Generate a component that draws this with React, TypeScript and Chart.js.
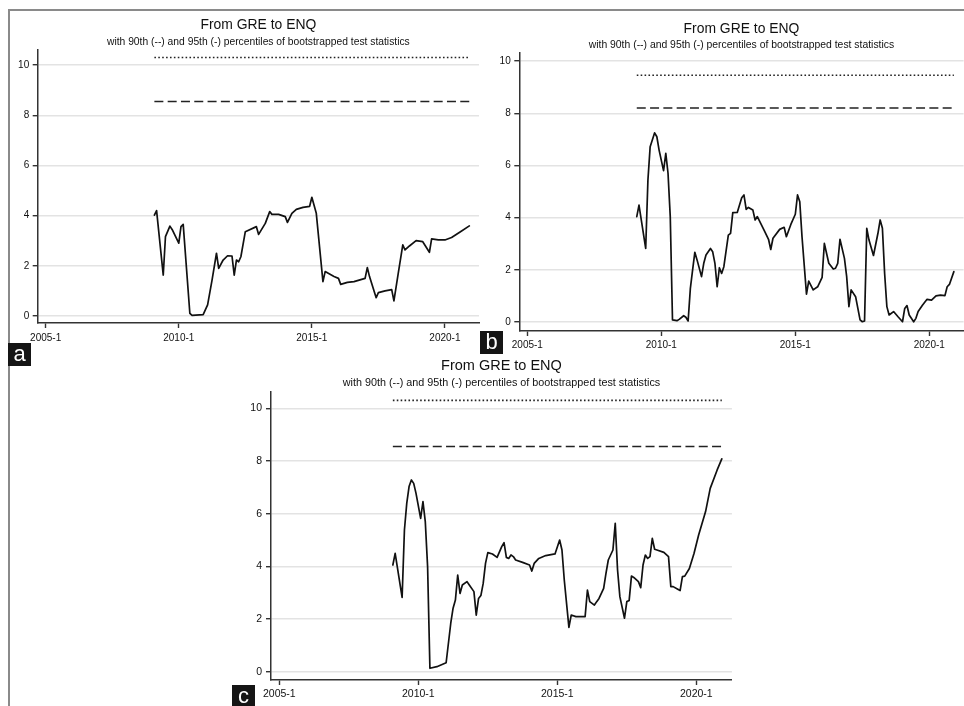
import React, { useEffect, useRef } from "react";
import { Chart, registerables } from "chart.js";

Chart.register(...registerables);

// ---- data -------------------------------------------------------------

const chartTitle = "From GRE to ENQ";
const chartSubtitle =
  "with 90th (--) and 95th (-) percentiles of bootstrapped test statistics";

const xTickValues = [2005, 2010, 2015, 2020];
const xTickLabels = ["2005-1", "2010-1", "2015-1", "2020-1"];
const yTickValues = [0, 2, 4, 6, 8, 10];

// critical values: 90th (dashed) and 95th (dotted) percentiles per panel
const pct90 = [8.55, 8.2, 8.55];
const pct95 = [10.3, 9.46, 10.3];
const bandFrom = "2009-2";
const bandTo = "2020-12";

const panelLetters = ["a", "b", "c"];

// panel a
const monthsA = [
  "2009-2", "2009-3", "2009-6", "2009-7", "2009-9", "2009-10",
  "2010-1", "2010-2", "2010-3", "2010-6", "2010-7", "2010-12",
  "2011-2", "2011-4", "2011-6", "2011-7", "2011-9", "2011-11",
  "2012-1", "2012-2", "2012-3", "2012-4", "2012-5", "2012-7", "2012-12",
  "2013-1", "2013-4", "2013-6", "2013-7", "2013-10",
  "2014-1", "2014-2", "2014-4", "2014-6", "2014-9", "2014-12",
  "2015-1", "2015-3", "2015-6", "2015-7", "2015-11",
  "2016-1", "2016-2", "2016-5", "2016-8",
  "2017-1", "2017-2", "2017-3", "2017-6", "2017-7", "2017-10",
  "2018-1", "2018-2", "2018-4", "2018-6", "2018-7", "2018-9", "2018-12",
  "2019-3", "2019-6", "2019-7", "2019-10",
  "2020-1", "2020-4", "2020-8", "2020-12",
];
const statA = [
  4.02, 4.2, 1.63, 3.16, 3.58, 3.45,
  2.9, 3.56, 3.65, 0.1, 0.02, 0.05,
  0.44, 1.43, 2.5, 1.9, 2.23, 2.4,
  2.39, 1.63, 2.23, 2.16, 2.36, 3.36, 3.56,
  3.25, 3.69, 4.16, 4.05, 4.05,
  3.96, 3.73, 4.09, 4.25, 4.33, 4.37,
  4.73, 4.09, 1.37, 1.77, 1.57,
  1.5, 1.26, 1.34, 1.37,
  1.5, 1.93, 1.57, 0.73, 0.93, 1.0,
  1.05, 0.6, 1.73, 2.83, 2.63, 2.79, 3.0,
  2.96, 2.54, 3.07, 3.03,
  3.03, 3.13, 3.36, 3.59,
];

// panel b
const monthsB = [
  "2009-2", "2009-3", "2009-6", "2009-7", "2009-8", "2009-10", "2009-11", "2009-12",
  "2010-2", "2010-3", "2010-4", "2010-5", "2010-6", "2010-8", "2010-9", "2010-11", "2010-12",
  "2011-1", "2011-2", "2011-3", "2011-4", "2011-5", "2011-7", "2011-8", "2011-9", "2011-11", "2011-12",
  "2012-1", "2012-2", "2012-3", "2012-4", "2012-5", "2012-7", "2012-8", "2012-9", "2012-11",
  "2013-1", "2013-2", "2013-3", "2013-4", "2013-6", "2013-7", "2013-8", "2013-11",
  "2014-1", "2014-2", "2014-3", "2014-6", "2014-8", "2014-9", "2014-11",
  "2015-1", "2015-2", "2015-3", "2015-4", "2015-6", "2015-7", "2015-9", "2015-11",
  "2016-1", "2016-2", "2016-4", "2016-6", "2016-7", "2016-8", "2016-9", "2016-11", "2016-12",
  "2017-1", "2017-2", "2017-4", "2017-6", "2017-7", "2017-8", "2017-9", "2017-10", "2017-12",
  "2018-2", "2018-3", "2018-4", "2018-5", "2018-6", "2018-7", "2018-9", "2018-11",
  "2019-1", "2019-2", "2019-3", "2019-4", "2019-6", "2019-7", "2019-8", "2019-10", "2019-12",
  "2020-2", "2020-4", "2020-6", "2020-8", "2020-9", "2020-10", "2020-12",
];
const statB = [
  4.04, 4.48, 2.82, 5.44, 6.72, 7.25, 7.1, 6.59,
  5.8, 6.46, 5.7, 4.04, 0.08, 0.05, 0.1, 0.24, 0.18,
  0.04, 1.29, 1.99, 2.67, 2.38, 1.74, 2.25, 2.57, 2.82, 2.69,
  2.25, 1.35, 2.08, 1.86, 2.12, 3.33, 3.4, 4.19, 4.2,
  4.76, 4.87, 4.32, 4.39, 4.29, 3.91, 4.04, 3.52,
  3.17, 2.78, 3.21, 3.55, 3.63, 3.27, 3.74,
  4.13, 4.87, 4.61, 3.27, 1.07, 1.57, 1.23, 1.35,
  1.71, 3.01, 2.25, 2.03, 2.06, 2.25, 3.17, 2.44, 1.74,
  0.59, 1.23, 0.97, 0.08, 0.01, 0.04, 3.59, 3.14, 2.55,
  3.4, 3.91, 3.59, 1.86, 0.59, 0.27, 0.4, 0.2,
  0.01, 0.52, 0.63, 0.27, 0.01, 0.14, 0.4, 0.65, 0.87,
  0.84, 1.0, 1.03, 1.01, 1.35, 1.44, 1.93,
];

// panel c
const monthsC = [
  "2009-2", "2009-3", "2009-6", "2009-7", "2009-8", "2009-9", "2009-10", "2009-11", "2009-12",
  "2010-2", "2010-3", "2010-4", "2010-5", "2010-6", "2010-9",
  "2011-1", "2011-3", "2011-4", "2011-5", "2011-6", "2011-7", "2011-8", "2011-10", "2011-11",
  "2012-1", "2012-2", "2012-3", "2012-4", "2012-5", "2012-6", "2012-7", "2012-9", "2012-11",
  "2013-1", "2013-2", "2013-3", "2013-4", "2013-5", "2013-6", "2013-7", "2013-10",
  "2014-1", "2014-2", "2014-3", "2014-5", "2014-8", "2014-12",
  "2015-2", "2015-3", "2015-4", "2015-6", "2015-7", "2015-9",
  "2016-1", "2016-2", "2016-3", "2016-5", "2016-6", "2016-7", "2016-9", "2016-10", "2016-11",
  "2017-1", "2017-2", "2017-3", "2017-4", "2017-6", "2017-7", "2017-8", "2017-9", "2017-10", "2017-12",
  "2018-1", "2018-2", "2018-3", "2018-4", "2018-5", "2018-6", "2018-7", "2018-8", "2018-11",
  "2019-1", "2019-2", "2019-3", "2019-5", "2019-6", "2019-7", "2019-8", "2019-10", "2019-12",
  "2020-2", "2020-5", "2020-7", "2020-10", "2020-12",
];
const statC = [
  4.05, 4.49, 2.82, 5.38, 6.39, 7.03, 7.28, 7.15, 6.77,
  5.82, 6.46, 5.7, 3.99, 0.13, 0.19,
  0.34, 1.84, 2.41, 2.72, 3.67, 2.97, 3.29, 3.42, 3.29,
  3.04, 2.15, 2.78, 2.89, 3.35, 4.11, 4.52, 4.47, 4.34,
  4.75, 4.9, 4.34, 4.3, 4.43, 4.37, 4.24, 4.15,
  4.05, 3.82, 4.11, 4.3, 4.41, 4.47,
  5.0, 4.62, 3.48, 1.68, 2.15, 2.09,
  2.09, 3.1, 2.66, 2.53, 2.66, 2.78, 3.16, 3.73, 4.24,
  4.62, 5.63, 3.86, 2.85, 2.03, 2.66, 2.7, 3.63, 3.58, 3.42,
  3.19, 4.05, 4.43, 4.3, 4.37, 5.06, 4.65, 4.62, 4.53,
  4.37, 3.23, 3.23, 3.13, 3.08, 3.61, 3.63, 3.92, 4.49,
  5.19, 6.08, 6.96, 7.66, 8.08,
];

// ---- drawing ------------------------------------------------------------

const FONT = '"Liberation Sans", Arial, Helvetica, sans-serif';
const X_MIN = 2004.7;
const X_MAX = 2021.28;
const X_AXIS_H = 26;

// "YYYY-M" -> fractional year
const toYear = (m: string) => {
  const [y, mo] = m.split("-").map(Number);
  return y + (mo - 1) / 12;
};

type Box = { x: number; y: number; w: number; h: number };
type Area = { left: number; top: number; right: number; bottom: number };

type PanelProps = {
  months: string[];
  stat: number[];
  p90: number;
  p95: number;
  box: Box;
  plot: Area;
  yRange: [number, number];
  titleY: number;
  subtitleY: number;
  titleSize: number;
  subtitleSize: number;
  tickSize: number;
  xPad: number;
  yPad: number;
};

function Panel(p: PanelProps) {
  const ref = useRef<HTMLCanvasElement | null>(null);

  useEffect(() => {
    const canvas = ref.current;
    if (!canvas) return;
    const { box, plot } = p;
    const areaLeft = plot.left - box.x;
    const areaTop = plot.top - box.y;
    const areaRight = plot.right - box.x;
    const areaBottom = plot.bottom - box.y;
    const tLh = p.titleSize * 1.2;
    const sLh = p.subtitleSize * 1.2;
    const tTop = p.titleY - box.y - tLh / 2;
    const sTop = p.subtitleY - box.y - sLh / 2;

    const x0 = toYear(bandFrom);
    const x1 = toYear(bandTo);
    const tickFont = { family: FONT, size: p.tickSize };
    const axisColor = "#333333";
    const textColor = "#111111";

    const chart = new Chart(canvas, {
      type: "line",
      data: {
        datasets: [
          {
            data: p.months.map((m, i) => ({ x: toYear(m), y: p.stat[i] })),
            borderColor: "#111111",
            borderWidth: 1.7,
            borderJoinStyle: "round",
            borderCapStyle: "round",
            pointRadius: 0,
            tension: 0,
          },
          {
            data: [
              { x: x0, y: p.p90 },
              { x: x1, y: p.p90 },
            ],
            borderColor: "#222222",
            borderWidth: 1.6,
            borderDash: [9, 4.3],
            pointRadius: 0,
          },
          {
            data: [
              { x: x0, y: p.p95 },
              { x: x1, y: p.p95 },
            ],
            borderColor: "#222222",
            borderWidth: 1.6,
            borderDash: [1.6, 2.3],
            pointRadius: 0,
          },
        ],
      },
      options: {
        animation: false,
        responsive: false,
        events: [],
        layout: {
          padding: {
            left: 0,
            top: 0,
            right: box.w - areaRight,
            bottom: box.h - areaBottom - X_AXIS_H,
          },
        },
        plugins: {
          legend: { display: false },
          tooltip: { enabled: false },
          title: {
            display: true,
            text: chartTitle,
            fullSize: false,
            color: textColor,
            font: { family: FONT, size: p.titleSize, weight: "normal", lineHeight: 1.2 },
            padding: { top: tTop, bottom: 0 },
          },
          subtitle: {
            display: true,
            text: chartSubtitle,
            fullSize: false,
            color: textColor,
            font: { family: FONT, size: p.subtitleSize, weight: "normal", lineHeight: 1.2 },
            padding: { top: sTop - (tTop + tLh), bottom: areaTop - (sTop + sLh) },
          },
        },
        scales: {
          x: {
            type: "linear",
            min: X_MIN,
            max: X_MAX,
            afterFit: (s: any) => {
              s.height = X_AXIS_H;
            },
            afterBuildTicks: (s: any) => {
              s.ticks = xTickValues.map((v) => ({ value: v }));
            },
            ticks: {
              autoSkip: false,
              maxRotation: 0,
              padding: p.xPad,
              color: textColor,
              font: tickFont,
              callback: (v: any) => xTickLabels[xTickValues.indexOf(Number(v))] ?? "",
            },
            grid: {
              display: true,
              drawOnChartArea: false,
              drawTicks: true,
              tickLength: 5,
              tickColor: axisColor,
              tickWidth: 1.4,
            },
            border: { display: true, color: axisColor, width: 1.5 },
          },
          y: {
            type: "linear",
            min: p.yRange[0],
            max: p.yRange[1],
            afterFit: (s: any) => {
              s.width = areaLeft;
            },
            afterBuildTicks: (s: any) => {
              s.ticks = yTickValues.map((v) => ({ value: v }));
            },
            ticks: {
              padding: p.yPad,
              color: textColor,
              font: tickFont,
              callback: (v: any) => String(v),
            },
            grid: {
              display: true,
              drawOnChartArea: true,
              drawTicks: true,
              tickLength: 5,
              color: "#e3e3e3",
              lineWidth: 1.4,
              tickColor: axisColor,
              tickWidth: 1.4,
            },
            border: { display: true, color: axisColor, width: 1.5 },
          },
        },
      },
    } as any);

    return () => chart.destroy();
  }, []);

  return (
    <canvas
      ref={ref}
      width={p.box.w}
      height={p.box.h}
      style={{
        position: "absolute",
        left: p.box.x,
        top: p.box.y,
        width: p.box.w,
        height: p.box.h,
      }}
    />
  );
}

function Letter({ text, x, y }: { text: string; x: number; y: number }) {
  return (
    <div
      style={{
        position: "absolute",
        left: x,
        top: y,
        width: 23,
        height: 23,
        background: "#151515",
        color: "#ffffff",
        fontFamily: FONT,
        fontSize: 22,
        lineHeight: "22px",
        textAlign: "center",
      }}
    >
      {text}
    </div>
  );
}

export default function App() {
  return (
    <div
      style={{
        position: "absolute",
        left: 0,
        top: 0,
        width: 964,
        height: 706,
        overflow: "hidden",
        background: "#ffffff",
      }}
    >
      <div
        style={{
          position: "absolute",
          left: 8,
          top: 9,
          width: 960,
          height: 700,
          borderTop: "2px solid #8a8a8a",
          borderLeft: "2px solid #8a8a8a",
        }}
      />
      <Panel
        months={monthsA}
        stat={statA}
        p90={pct90[0]}
        p95={pct95[0]}
        box={{ x: 10, y: 11, w: 470, h: 340 }}
        plot={{ left: 37.7, top: 50, right: 479, bottom: 323 }}
        yRange={[-0.28, 10.6]}
        titleY={25}
        subtitleY={42}
        titleSize={13.9}
        subtitleSize={10.3}
        tickSize={10}
        xPad={4}
        yPad={3.5}
      />
      <Panel
        months={monthsB}
        stat={statB}
        p90={pct90[1]}
        p95={pct95[1]}
        box={{ x: 482, y: 11, w: 482, h: 340 }}
        plot={{ left: 519.3, top: 53, right: 963.6, bottom: 331 }}
        yRange={[-0.345, 10.31]}
        titleY={29}
        subtitleY={45}
        titleSize={13.9}
        subtitleSize={10.4}
        tickSize={10}
        xPad={3}
        yPad={3.6}
      />
      <Panel
        months={monthsC}
        stat={statC}
        p90={pct90[2]}
        p95={pct95[2]}
        box={{ x: 238, y: 352, w: 505, h: 354 }}
        plot={{ left: 271, top: 391.7, right: 731.9, bottom: 680 }}
        yRange={[-0.315, 10.63]}
        titleY={365.7}
        subtitleY={383.3}
        titleSize={14.5}
        subtitleSize={10.8}
        tickSize={10.5}
        xPad={3}
        yPad={4}
      />
      <Letter text={panelLetters[0]} x={8} y={343} />
      <Letter text={panelLetters[1]} x={480} y={331} />
      <Letter text={panelLetters[2]} x={232} y={685} />
    </div>
  );
}
